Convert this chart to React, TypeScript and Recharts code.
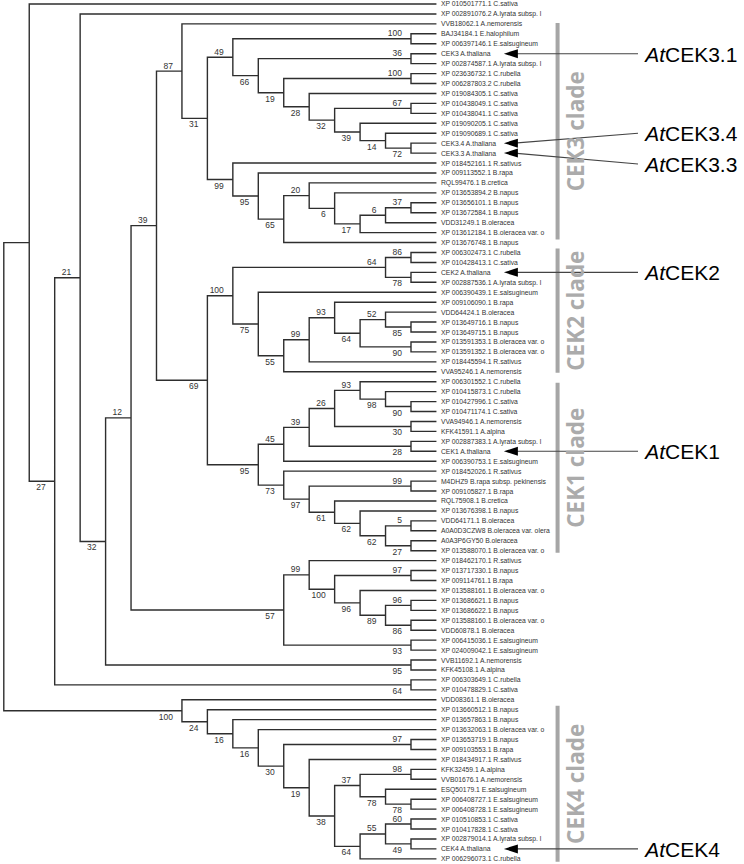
import { ComposedChart, Line, Scatter, XAxis, YAxis } from "recharts";

// taxa, top to bottom (leaf numbers in the trees below are 1-based indexes into this list)
const TAXA = [
  "XP 010501771.1 C.sativa",
  "XP 002891076.2 A.lyrata subsp. l",
  "VVB18062.1 A.nemorensis",
  "BAJ34184.1 E.halophilum",
  "XP 006397146.1 E.salsugineum",
  "CEK3 A.thaliana",
  "XP 002874587.1 A.lyrata subsp. l",
  "XP 023636732.1 C.rubella",
  "XP 006287803.2 C.rubella",
  "XP 019084305.1 C.sativa",
  "XP 010438049.1 C.sativa",
  "XP 010438041.1 C.sativa",
  "XP 019090205.1 C.sativa",
  "XP 019090689.1 C.sativa",
  "CEK3.4 A.thaliana",
  "CEK3.3 A.thaliana",
  "XP 018452161.1 R.sativus",
  "XP 009113552.1 B.rapa",
  "RQL99476.1 B.cretica",
  "XP 013653894.2 B.napus",
  "XP 013656101.1 B.napus",
  "XP 013672584.1 B.napus",
  "VDD31249.1 B.oleracea",
  "XP 013612184.1 B.oleracea var. o",
  "XP 013676748.1 B.napus",
  "XP 006302473.1 C.rubella",
  "XP 010428413.1 C.sativa",
  "CEK2 A.thaliana",
  "XP 002887536.1 A.lyrata subsp. l",
  "XP 006390439.1 E.salsugineum",
  "XP 009106090.1 B.rapa",
  "VDD64424.1 B.oleracea",
  "XP 013649716.1 B.napus",
  "XP 013649715.1 B.napus",
  "XP 013591353.1 B.oleracea var. o",
  "XP 013591352.1 B.oleracea var. o",
  "XP 018445594.1 R.sativus",
  "VVA95246.1 A.nemorensis",
  "XP 006301552.1 C.rubella",
  "XP 010415873.1 C.rubella",
  "XP 010427996.1 C.sativa",
  "XP 010471174.1 C.sativa",
  "VVA94946.1 A.nemorensis",
  "KFK41591.1 A.alpina",
  "XP 002887383.1 A.lyrata subsp. l",
  "CEK1 A.thaliana",
  "XP 006390753.1 E.salsugineum",
  "XP 018452026.1 R.sativus",
  "M4DHZ9 B.rapa subsp. pekinensis",
  "XP 009105827.1 B.rapa",
  "RQL75908.1 B.cretica",
  "XP 013676398.1 B.napus",
  "VDD64171.1 B.oleracea",
  "A0A0D3CZW8 B.oleracea var. olera",
  "A0A3P6GY50 B.oleracea",
  "XP 013588070.1 B.oleracea var. o",
  "XP 018462170.1 R.sativus",
  "XP 013717330.1 B.napus",
  "XP 009114761.1 B.rapa",
  "XP 013588161.1 B.oleracea var. o",
  "XP 013686621.1 B.napus",
  "XP 013686622.1 B.napus",
  "XP 013588160.1 B.oleracea var. o",
  "VDD60878.1 B.oleracea",
  "XP 006415036.1 E.salsugineum",
  "XP 024009042.1 E.salsugineum",
  "VVB11692.1 A.nemorensis",
  "KFK45108.1 A.alpina",
  "XP 006303649.1 C.rubella",
  "XP 010478829.1 C.sativa",
  "VDD08361.1 B.oleracea",
  "XP 013660512.1 B.napus",
  "XP 013657863.1 B.napus",
  "XP 013632063.1 B.oleracea var. o",
  "XP 013653719.1 B.napus",
  "XP 009103553.1 B.rapa",
  "XP 018434917.1 R.sativus",
  "KFK32459.1 A.alpina",
  "VVB01676.1 A.nemorensis",
  "ESQ50179.1 E.salsugineum",
  "XP 006408727.1 E.salsugineum",
  "XP 006408728.1 E.salsugineum",
  "XP 010510853.1 C.sativa",
  "XP 010417828.1 C.sativa",
  "XP 002879014.1 A.lyrata subsp. l",
  "CEK4 A.thaliana",
  "XP 006296073.1 C.rubella",
];

// topology in newick form, node labels are bootstrap values
const CEK3_CLADE =
  "(3,(((4,5)100,((6,7)36,((8,9)100,(10,((11,12)67,(13,(14,(15,16)72)14)39)32)28)19)66)49,(17,(18,((19,(20,(((21,22)37,23)6,24)17)6)20,25)65)95)99)31)";
const CEK2_CLADE =
  "(((26,27)86,(28,29)78)64,(30,(((31,((32,(33,34)85)52,(35,36)90)64)93,37)99,38)55)75)";
const CEK1_CLADE =
  "(((((39,(40,(41,42)90)98)93,(43,44)30)26,(45,46)28)39,47)45,(48,((49,50)99,(51,(52,((53,54)5,(55,56)27)62)62)61)97)73)";
const BRASSICA_GROUP = "((57,((58,59)97,(60,((61,62)96,(63,64)86)89)96)100)99,(65,66)93)";
const CEK4_CLADE =
  "(71,(72,(73,(74,((75,76)97,(77,(((78,79)98,(80,(81,82)78)78)37,(((83,84)60,(85,86)49)55,87)64)38)19)30)16)16)24)";

const CEK123 = `(${CEK3_CLADE}87,(${CEK2_CLADE}100,${CEK1_CLADE}95)69)`;
const TREE = `((1,((2,((${CEK123}39,${BRASSICA_GROUP}57)12,(67,68)95)32)21,(69,70)64)27),${CEK4_CLADE}100)`;

// clade bars on the right (in leaf-row units)
const CLADES = [
  { name: "CEK3 clade", from: 1.9, to: 23.7 },
  { name: "CEK2 clade", from: 24.6, to: 37.1 },
  { name: "CEK1 clade", from: 38.1, to: 55.2 },
  { name: "CEK4 clade", from: 70.6, to: 86.3 },
];

// arabidopsis genes pointed at (leaf number, row of the label)
const GENES = [
  { gene: "CEK3.1", leaf: 6, labelRow: 5 },
  { gene: "CEK3.4", leaf: 15, labelRow: 13 },
  { gene: "CEK3.3", leaf: 16, labelRow: 16.1 },
  { gene: "CEK2", leaf: 28, labelRow: 27 },
  { gene: "CEK1", leaf: 46, labelRow: 45 },
  { gene: "CEK4", leaf: 86, labelRow: 85 },
];

const X_DOMAIN = [-0.149, 29.085];
const Y_DOMAIN = [-0.402, 86.52];
const ARROW_TIP = 19.65;
const ARROW_TAIL = 24.92;
const GENE_LABEL_X = 25.2;
const CLADE_BAR_X = 21.76;
const CLADE_TEXT_X = 22.48;

const FONT = "'Liberation Sans', Arial, sans-serif";

type TNode = { leaf?: number; support?: string; children: TNode[]; h: number; xv: number; yv: number };

function parseNewick(s: string): TNode {
  let i = 0;
  const token = () => {
    let t = "";
    while (i < s.length && /[0-9]/.test(s[i])) t += s[i++];
    return t;
  };
  const node = (): TNode => {
    if (s[i] === "(") {
      i++;
      const children = [node()];
      while (s[i] === ",") {
        i++;
        children.push(node());
      }
      i++; // ")"
      return { children, support: token(), h: 0, xv: 0, yv: 0 };
    }
    return { leaf: Number(token()), children: [], h: 0, xv: 0, yv: 0 };
  };
  return node();
}

function measure(n: TNode) {
  if (!n.children.length) {
    n.h = 0;
    n.yv = (n.leaf as number) - 1;
    return;
  }
  n.children.forEach(measure);
  n.h = Math.max(...n.children.map((c) => c.h)) + 1;
  n.yv = (n.children[0].yv + n.children[n.children.length - 1].yv) / 2;
}

function place(n: TNode, rootH: number) {
  n.xv = rootH - n.h;
  n.children.forEach((c) => place(c, rootH));
}

const root = parseNewick(TREE);
measure(root);
place(root, root.h);
const TIP_X = root.h;

const branchData: { x: number; y: number | null }[] = [];
const supportData: { x: number; y: number; text: string; above: boolean }[] = [];
(function walk(n: TNode) {
  if (!n.children.length) return;
  const first = n.children[0];
  const last = n.children[n.children.length - 1];
  branchData.push(
    { x: first.xv, y: first.yv },
    { x: n.xv, y: first.yv },
    { x: n.xv, y: last.yv },
    { x: last.xv, y: last.yv },
    { x: last.xv, y: null }
  );
  n.children.forEach((c, k) => {
    if (c.support) supportData.push({ x: c.xv, y: c.yv, text: c.support, above: k === 0 });
    walk(c);
  });
})(root);

const leafData = TAXA.map((name, i) => ({ x: TIP_X, y: i, name }));

const cladeBarData = CLADES.flatMap((c) => [
  { x: CLADE_BAR_X, y: c.from },
  { x: CLADE_BAR_X, y: c.to },
  { x: CLADE_BAR_X, y: null },
]);
const cladeTextData = CLADES.map((c) => ({ x: CLADE_TEXT_X, y: (c.from + c.to) / 2, name: c.name }));

const arrowLineData = GENES.flatMap((g) => [
  { x: ARROW_TIP + 0.4, y: g.leaf - 1 },
  { x: ARROW_TAIL, y: g.labelRow },
  { x: ARROW_TAIL, y: null },
]);
const arrowHeadData = GENES.map((g) => ({ x: ARROW_TIP, y: g.leaf - 1 }));
const geneLabelData = GENES.map((g) => ({ x: GENE_LABEL_X, y: g.labelRow, gene: g.gene }));

export default function App() {
  return (
    <div style={{ position: "absolute", left: 0, top: 0, width: 744, height: 864, background: "#fff" }}>
      <ComposedChart width={744} height={864} margin={{ top: 0, right: 0, bottom: 0, left: 0 }}>
        <XAxis type="number" dataKey="x" domain={X_DOMAIN} allowDataOverflow hide />
        <YAxis type="number" dataKey="y" domain={Y_DOMAIN} allowDataOverflow reversed hide />

        {/* tree branches */}
        <Line
          data={branchData}
          dataKey="y"
          stroke="#2e2e2e"
          strokeWidth={1.4}
          dot={false}
          activeDot={false}
          connectNulls={false}
          isAnimationActive={false}
        />

        {/* clade bars */}
        <Line
          data={cladeBarData}
          dataKey="y"
          stroke="#a6a6a6"
          strokeWidth={4}
          dot={false}
          activeDot={false}
          connectNulls={false}
          isAnimationActive={false}
        />

        {/* arrows to the arabidopsis genes */}
        <Line
          data={arrowLineData}
          dataKey="y"
          stroke="#444"
          strokeWidth={1.1}
          dot={false}
          activeDot={false}
          connectNulls={false}
          isAnimationActive={false}
        />
        <Scatter
          data={arrowHeadData}
          isAnimationActive={false}
          shape={(p: any) => (
            <polygon points={`${p.cx},${p.cy} ${p.cx + 14},${p.cy - 4.5} ${p.cx + 14},${p.cy + 4.5}`} fill="#000" />
          )}
        />

        {/* leaf names */}
        <Scatter
          data={leafData}
          isAnimationActive={false}
          shape={(p: any) => (
            <text x={p.cx + 4.5} y={p.cy} dominantBaseline="central" fontSize={6.8} fontFamily={FONT} fill="#333">
              {p.payload.name}
            </text>
          )}
        />

        {/* bootstrap values */}
        <Scatter
          data={supportData}
          isAnimationActive={false}
          shape={(p: any) => (
            <text
              x={p.cx - 9}
              y={p.payload.above ? p.cy - 2.5 : p.cy + 9}
              textAnchor="end"
              fontSize={8.5}
              fontFamily={FONT}
              fill="#333"
            >
              {p.payload.text}
            </text>
          )}
        />

        {/* clade names */}
        <Scatter
          data={cladeTextData}
          isAnimationActive={false}
          shape={(p: any) => (
            <text
              x={p.cx}
              y={p.cy}
              transform={`rotate(-90 ${p.cx} ${p.cy})`}
              textAnchor="middle"
              dominantBaseline="central"
              fontSize={22.5}
              fontWeight="bold"
              fontFamily="'Open Sans', sans-serif"
              fill="#ababab"
            >
              {p.payload.name}
            </text>
          )}
        />

        {/* gene labels */}
        <Scatter
          data={geneLabelData}
          isAnimationActive={false}
          shape={(p: any) => (
            <text x={p.cx} y={p.cy} dominantBaseline="central" fontSize={21} fontFamily={FONT} fill="#000">
              <tspan fontStyle="italic">At</tspan>
              <tspan>{p.payload.gene}</tspan>
            </text>
          )}
        />
      </ComposedChart>
    </div>
  );
}
